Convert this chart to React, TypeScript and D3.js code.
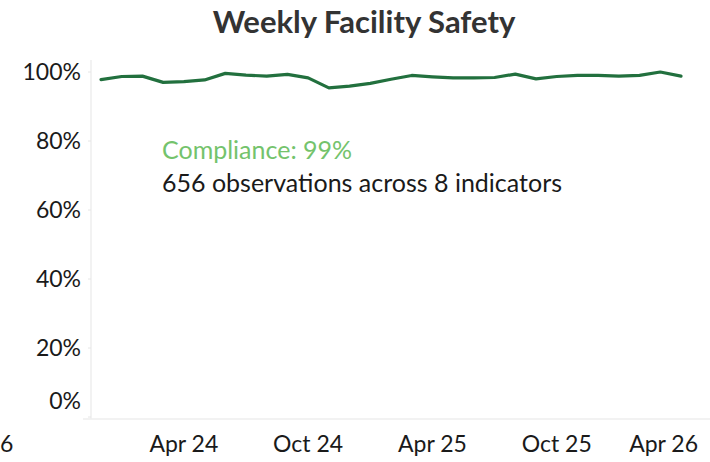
import React from 'react';
import * as d3 from 'd3';

const months = [
  '2023-12', '2024-01', '2024-02', '2024-03', '2024-04', '2024-05', '2024-06', '2024-07',
  '2024-08', '2024-09', '2024-10', '2024-11', '2024-12', '2025-01', '2025-02', '2025-03',
  '2025-04', '2025-05', '2025-06', '2025-07', '2025-08', '2025-09', '2025-10', '2025-11',
  '2025-12', '2026-01', '2026-02', '2026-03', '2026-04',
];
const compliance = [
  97.8, 98.7, 98.8, 97.0, 97.2, 97.7, 99.6, 99.1,
  98.8, 99.3, 98.3, 95.4, 95.9, 96.7, 97.9, 99.0,
  98.6, 98.3, 98.3, 98.4, 99.4, 98.0, 98.7, 99.0,
  99.0, 98.8, 99.0, 100.0, 98.8,
];
const yTicks = [0, 20, 40, 60, 80, 100];
const xTickMonths = ['2024-04', '2024-10', '2025-04', '2025-10', '2026-04'];
const xTickLabels = ['Apr 24', 'Oct 24', 'Apr 25', 'Oct 25', 'Apr 26'];
const clippedLabel = '6';
const title = 'Weekly Facility Safety';
const summaryLine1 = 'Compliance: 99%';
const summaryLine2 = '656 observations across 8 indicators';

const W = 710;
const H = 462;
const FONT = 'Lato, "Open Sans", sans-serif';

export default function App() {
  const x = d3.scalePoint<string>().domain(months).range([101, 681]);
  const y = d3.scaleLinear().domain([0, 100]).range([417, 72]);
  const line = d3
    .line<number>()
    .x((_, i) => x(months[i]) as number)
    .y((d) => y(d))
    .curve(d3.curveLinear);

  return (
    <svg
      width={W}
      height={H}
      style={{ position: 'absolute', left: 0, top: 0, background: '#fff' }}
      fontFamily={FONT}
    >
      <text x={364} y={33} textAnchor="middle" fontSize={31} fontWeight={700} fill="#333">
        {title}
      </text>

      <line x1={91} x2={91} y1={60} y2={419} stroke="#eeeeee" strokeWidth={1.5} />
      <line x1={83} x2={710} y1={419} y2={419} stroke="#eeeeee" strokeWidth={1.5} />

      {yTicks.map((t) => {
        const ty = y(t);
        const labelY = t === 0 ? ty - 16 : ty;
        return (
          <g key={t}>
            <line x1={88} x2={91} y1={ty} y2={ty} stroke="#e6e6e6" />
            <text x={81} y={labelY} dy="0.35em" textAnchor="end" fontSize={23} fill="#1a1a1a">
              {t}%
            </text>
          </g>
        );
      })}

      {xTickMonths.map((m, i) => {
        const cx = x(m) as number;
        const overflow = cx + 36 > 698;
        return (
          <text
            key={m}
            x={overflow ? 698 : cx}
            y={452}
            textAnchor={overflow ? 'end' : 'middle'}
            fontSize={23}
            fill="#1a1a1a"
          >
            {xTickLabels[i]}
          </text>
        );
      })}
      <text x={0} y={452} textAnchor="start" fontSize={23} fill="#1a1a1a">
        {clippedLabel}
      </text>

      <path
        d={line(compliance) || ''}
        fill="none"
        stroke="#22703e"
        strokeWidth={3.2}
        strokeLinejoin="round"
        strokeLinecap="round"
      />

      <text x={162} y={159} fontSize={25} fill="#74c36c">
        {summaryLine1}
      </text>
      <text x={162} y={192} fontSize={25} fill="#1a1a1a">
        {summaryLine2}
      </text>
    </svg>
  );
}
